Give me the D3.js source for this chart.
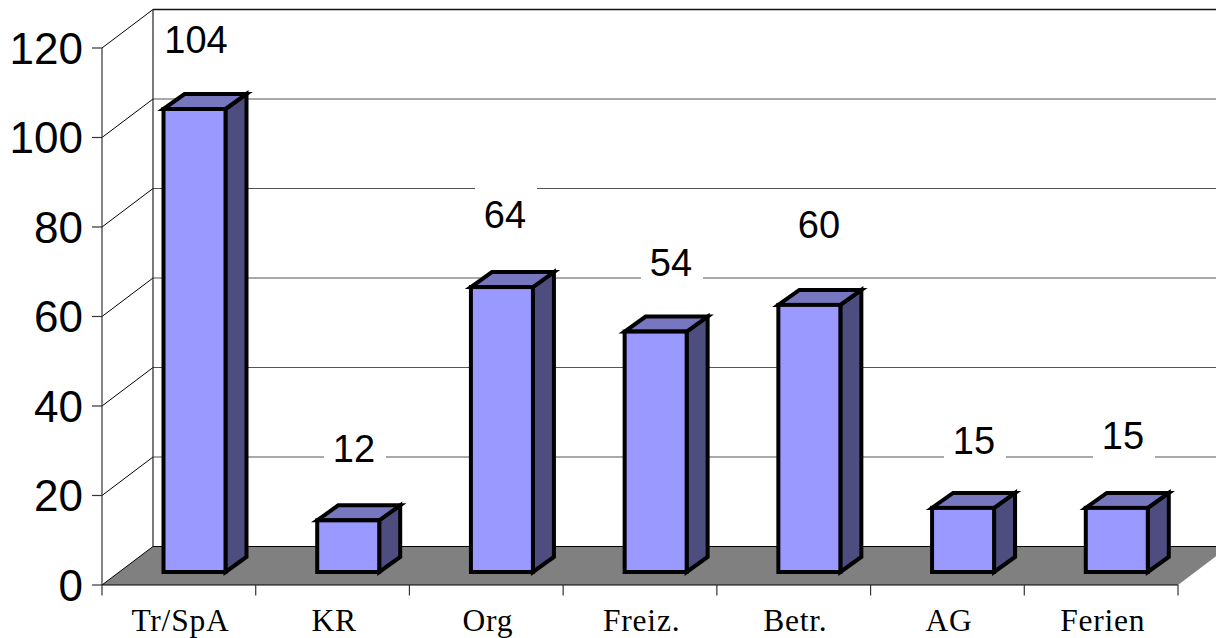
<!DOCTYPE html>
<html><head><meta charset="utf-8">
<script src="https://cdn.jsdelivr.net/npm/d3@7"></script>
<style>html,body{margin:0;padding:0;background:#fff;overflow:hidden}</style></head>
<body><svg id="c" width="1216" height="638"></svg>
<script>
const categories = ["Tr/SpA","KR","Org","Freiz.","Betr.","AG","Ferien"];
const barValues = [104,11.6,64,54,60,14.4,14.4];
const dataLabels = ["104","12","64","54","60","15","15"];
const labelX = [197,355,506,672,820,975,1124];
const labelY = [40,449,215,263,225,441,436];
const yTicks = [0,20,40,60,80,100,120];

const svg = d3.select("#c");
const ax = 102, floorY = 585, dx = 51, dy = 38.5;
const y = d3.scaleLinear().domain([0,120]).range([floorY,48]);
const x = d3.scaleBand().domain(categories).range([ax,1178]);
const pt = p => p.map(d=>d.join(",")).join(" ");

// floor
svg.append("polygon").attr("points",pt([[ax,floorY],[ax+dx,floorY-dy],[1178+dx,floorY-dy],[1178,floorY]]))
  .attr("fill","#808080");
svg.append("path").attr("d",`M${ax+dx},${floorY-dy}H1229`).attr("stroke","#000").attr("stroke-width",1.2).attr("fill","none");

// back wall gridlines
yTicks.forEach(t=>{
  const yy=y(t);
  svg.append("line").attr("x1",ax).attr("y1",yy).attr("x2",ax+dx).attr("y2",yy-dy)
    .attr("stroke","#000").attr("stroke-width",1);
  if(t>0) svg.append("line").attr("x1",ax+dx).attr("y1",yy-dy).attr("x2",1216).attr("y2",yy-dy)
    .attr("stroke",t===120?"#111":"#555").attr("stroke-width",t===120?1.3:1.2);
  svg.append("line").attr("x1",ax-10).attr("y1",yy).attr("x2",ax).attr("y2",yy).attr("stroke","#333").attr("stroke-width",1.2);
  svg.append("text").attr("x",83).attr("y",yy).attr("dy","0.36em").attr("text-anchor","end")
    .attr("font-family","Liberation Sans").attr("font-size",44).attr("fill","#000").text(t);
});
svg.append("line").attr("x1",ax+dx).attr("y1",y(120)-dy).attr("x2",ax+dx).attr("y2",floorY-dy).attr("stroke","#222").attr("stroke-width",1.2);
svg.append("line").attr("x1",ax).attr("y1",y(120)).attr("x2",ax).attr("y2",floorY).attr("stroke","#333").attr("stroke-width",1.2);

// x axis
svg.append("line").attr("x1",ax).attr("y1",floorY).attr("x2",1178).attr("y2",floorY).attr("stroke","#000").attr("stroke-width",1.2);
[...categories.map(c=>x(c)),1178].forEach(t=>{
  svg.append("line").attr("x1",t).attr("y1",floorY).attr("x2",t).attr("y2",floorY+10.5).attr("stroke","#333").attr("stroke-width",1.2);
});
categories.forEach(c=>{
  svg.append("text").attr("x",x(c)+78.5).attr("y",631).attr("text-anchor","middle")
    .attr("font-family","Liberation Serif").attr("font-size",31.5).attr("letter-spacing",0.8).attr("fill","#000").text(c);
});

// data labels with white backing, behind bars
dataLabels.forEach((l,i)=>{
  svg.append("rect").attr("x",labelX[i]-31).attr("y",labelY[i]-29).attr("width",62).attr("height",54).attr("fill","#fff");
  svg.append("text").attr("x",labelX[i]-1).attr("y",labelY[i]).attr("dy","0.34em").attr("text-anchor","middle")
    .attr("font-family","Liberation Sans").attr("font-size",38).attr("fill","#000").text(l);
});

// bars
const barBase = 572, barW = 62, bdx = 21, bdy = 15, inset = 61.5;
const h = d3.scaleLinear().domain([0,104]).range([barBase,109]);
const stroke = {stroke:"#000","stroke-width":4,"stroke-linejoin":"miter"};
const apply=(s)=>{Object.entries(stroke).forEach(([k,v])=>s.attr(k,v));return s;};
categories.forEach((c,i)=>{
  const x0=x(c)+inset, x1=x0+barW, top=h(barValues[i]);
  apply(svg.append("polygon").attr("fill","#4D4D80").attr("points",pt([[x1,top],[x1+bdx,top-bdy],[x1+bdx,barBase-bdy],[x1,barBase]])));
  apply(svg.append("polygon").attr("fill","#7777BF").attr("points",pt([[x0,top],[x0+bdx,top-bdy],[x1+bdx,top-bdy],[x1,top]])));
  apply(svg.append("rect").attr("fill","#9999FF").attr("x",x0).attr("y",top).attr("width",barW).attr("height",barBase-top));
});
</script></body></html>
